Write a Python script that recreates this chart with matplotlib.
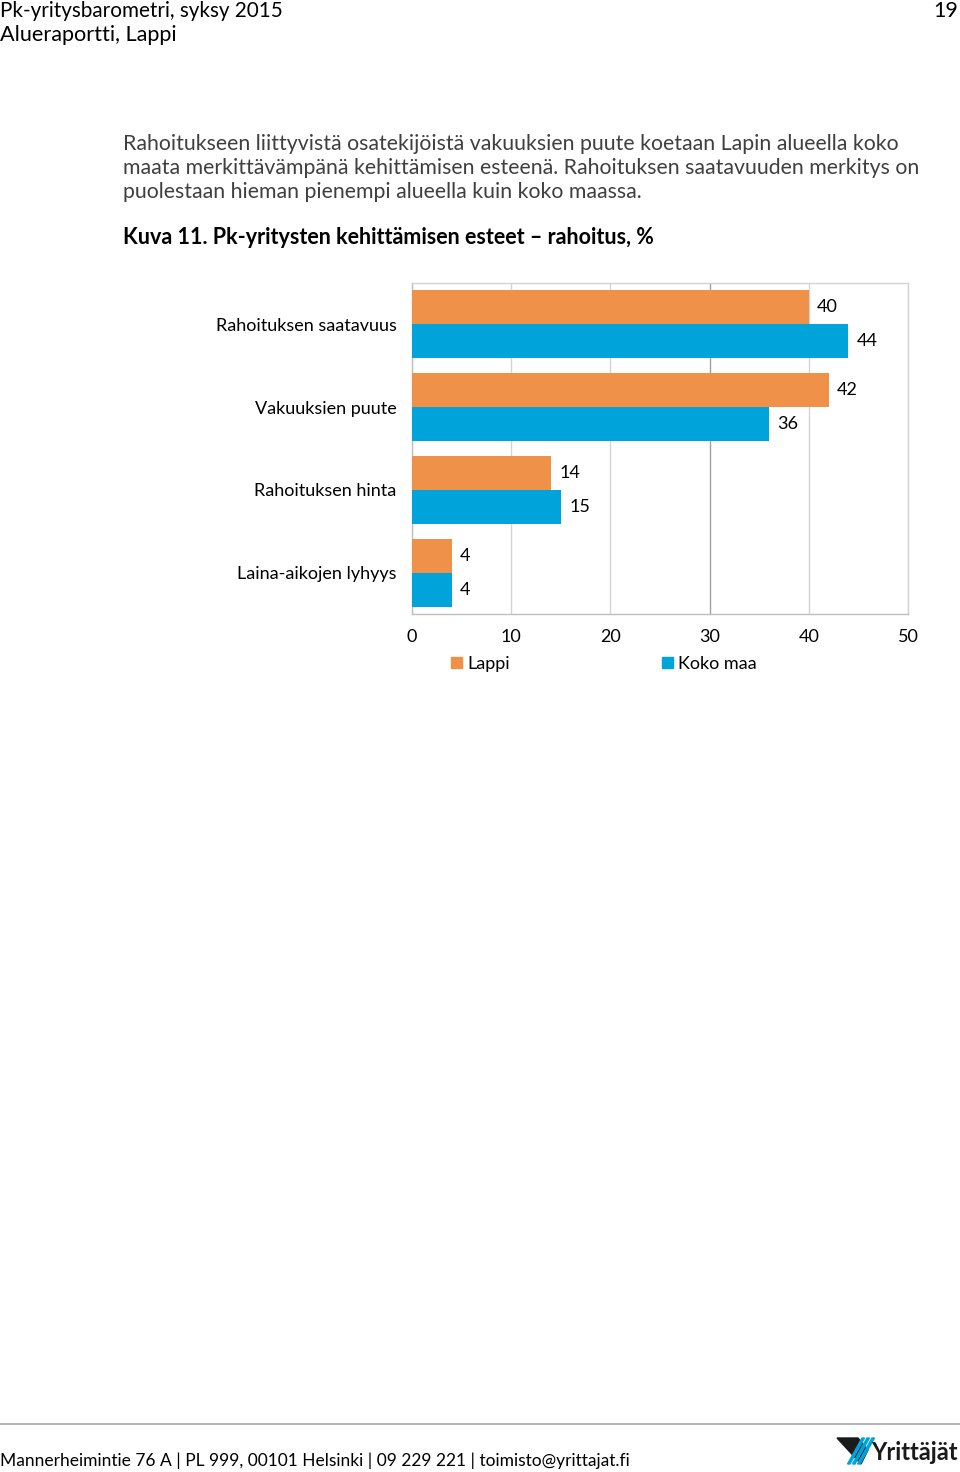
import matplotlib

matplotlib.use("Agg")
import matplotlib.pyplot as plt
from matplotlib.patches import Patch, Polygon
import numpy as np

plt.rcParams["font.family"] = ["Lato", "DejaVu Sans"]

LAPPI = "#F0914A"
KOKO = "#00A3DA"
GRID = "#d4d4d4"

categories = ["Rahoituksen saatavuus", "Vakuuksien puute", "Rahoituksen hinta", "Laina-aikojen lyhyys"]
lappi = [40, 42, 14, 4]
koko_maa = [44, 36, 15, 4]
series_names = ["Lappi", "Koko maa"]
xticks = [0, 10, 20, 30, 40, 50]

W, H = 960, 1472
fig = plt.figure(figsize=(W / 100, H / 100), dpi=100)
renderer = fig.canvas.get_renderer()


def fx(px):
    return px / W


def fy(py):
    return 1 - py / H


def fit(x, y, s, width, size=14, ha="left", **kw):
    """Place text and rescale its font so it spans `width` pixels."""
    t = fig.text(fx(x), fy(y), s, fontsize=size, va="center", ha=ha, **kw)
    w = t.get_window_extent(renderer).width
    t.set_fontsize(size * width / w)
    return t


# ---- page header -------------------------------------------------------------
fit(0, 11, "Pk-yritysbarometri, syksy 2015", 283)
fit(0, 35, "Alueraportti, Lappi", 177)
fig.text(fx(958), fy(11), "19", fontsize=15.5, va="center", ha="right")

body = [("Rahoitukseen liittyvistä osatekijöistä vakuuksien puute koetaan Lapin alueella koko", 775),
        ("maata merkittävämpänä kehittämisen esteenä. Rahoituksen saatavuuden merkitys on", 794),
        ("puolestaan hieman pienempi alueella kuin koko maassa.", 520)]
for i, (line, w) in enumerate(body):
    fit(123, 144 + 24 * i, line, w, color="#3f3f3f")
fit(123, 237, "Kuva 11. Pk-yritysten kehittämisen esteet – rahoitus, %", 536, fontweight="bold")

# ---- chart -------------------------------------------------------------------
ax = fig.add_axes([fx(412), fy(614), fx(908) - fx(412), (614 - 283) / H])
y = np.arange(len(categories))
bh = 0.41
ax.barh(y - bh / 2, lappi, height=bh, color=LAPPI, zorder=3, label=series_names[0])
ax.barh(y + bh / 2, koko_maa, height=bh, color=KOKO, zorder=3, label=series_names[1])
lab_fs = 13
for yi, v in zip(y, lappi):
    ax.annotate(f"{v}", (v, yi - bh / 2), xytext=(6, 0), textcoords="offset points",
                va="center", ha="left", fontsize=lab_fs)
for yi, v in zip(y, koko_maa):
    ax.annotate(f"{v}", (v, yi + bh / 2), xytext=(6, 0), textcoords="offset points",
                va="center", ha="left", fontsize=lab_fs)

ax.set_xlim(0, 50)
ax.set_ylim(len(categories) - 0.5, -0.5)
ax.set_xticks(xticks)
ax.set_yticks(y)
ax.set_yticklabels(categories)
ax.tick_params(axis="both", length=0, labelsize=lab_fs)
ax.tick_params(axis="y", pad=11)
ax.tick_params(axis="x", pad=11)
ax.grid(axis="x", color=GRID, lw=1, zorder=0)
ax.get_xgridlines()[3].set_color("#a0a0a0")
ax.set_axisbelow(True)
for s in ax.spines.values():
    s.set_color(GRID)
    s.set_linewidth(1)
ax.spines["left"].set_color("#bfbfbf")
ax.spines["bottom"].set_color("#bfbfbf")

handles = [Patch(color=LAPPI, label=series_names[0]), Patch(color=KOKO, label=series_names[1])]
fig.legend(handles=handles, loc="center", bbox_to_anchor=(fx(604), fy(664)), ncol=2,
           frameon=False, fontsize=lab_fs, handlelength=0.6, handleheight=0.6,
           handletextpad=0.3, columnspacing=8.4)

# ---- footer ------------------------------------------------------------------
fig.add_artist(plt.Line2D([0, 1], [fy(1424), fy(1424)], color="#a6a6a6", lw=1.2))
fit(0, 1461, "Mannerheimintie 76 A | PL 999, 00101 Helsinki | 09 229 221 | toimisto@yrittajat.fi", 630)
# logo mark
fig.add_artist(Polygon([(fx(837), fy(1438)), (fx(858), fy(1438)), (fx(868), fy(1450)), (fx(861), fy(1464))],
                       closed=True, color="#1a1a1a", transform=fig.transFigure))
for k in range(3):
    x0 = 862 + 5 * k
    fig.add_artist(Polygon([(fx(x0), fy(1438)), (fx(x0 + 2.5), fy(1438)), (fx(x0 - 12), fy(1464)),
                            (fx(x0 - 14.5), fy(1464))], closed=True, color=KOKO, transform=fig.transFigure))
fit(958, 1452, "Yrittäjät", 88, ha="right", fontweight="bold", color="#1a1a1a")

fig.savefig("out.png", dpi=100)
